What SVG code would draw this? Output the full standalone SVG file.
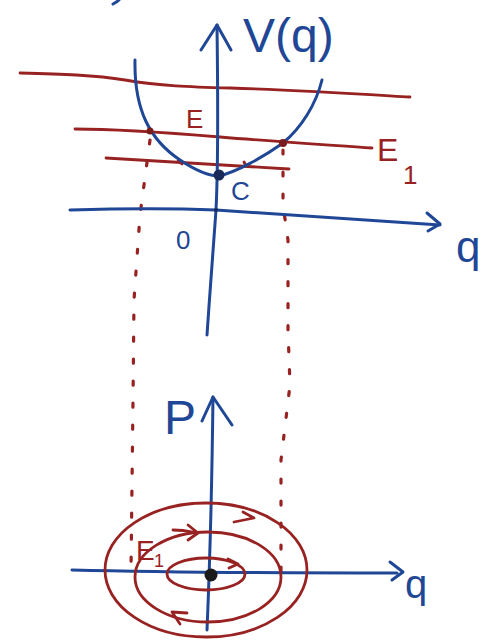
<svg xmlns="http://www.w3.org/2000/svg" width="483" height="644" viewBox="0 0 483 644">
<style>
.b{fill:none;stroke:#1f4796;stroke-width:3;stroke-linecap:round;stroke-linejoin:round}
.r{fill:none;stroke:#982222;stroke-width:2.8;stroke-linecap:round;stroke-linejoin:round}
.d{fill:none;stroke:#982222;stroke-width:3.2;stroke-dasharray:4 18;stroke-linecap:round}
.tb{fill:#1f4796;font-family:"Liberation Sans",Arial,sans-serif}
.tr{fill:#982222;font-family:"Liberation Sans",Arial,sans-serif}
</style>
<rect width="483" height="644" fill="#fff"/>
<g id="mark"><path class="b" d="M113,4 Q117,2 119,0"/></g>
<g id="connectors">
<path class="d" d="M150,140 L140,215 L134,300 L133,400 L131,570"/>
<path class="d" d="M283,150 L283,205 L288,240 L288,330 L290,385 L281,460 L281,575"/>
</g>
<g id="potential">
<path class="r" d="M20,73 C60,74 95,75 125,80 C160,86 190,87 230,88 C300,90 360,94 410,97"/>
<path class="r" d="M75,129 C120,129 160,132 220,137 C280,142 330,145 372,148"/>
<path class="r" d="M106,158 C170,162 230,165 289,169"/>
<path class="r" d="M178,161 l4,3 M244,162 l2,4"/>
<path class="b" d="M135,60 C134,110 150,140 180,160 C195,170 208,176 219,176 C236,172 262,158 283,143 C302,127 316,104 322,80"/>
<circle cx="150" cy="131" r="3.5" fill="#7a1c1c"/>
<circle cx="283" cy="143" r="4" fill="#7a1c1c"/>
<path class="b" d="M70,210 C140,208 190,209 216,210 C300,216 380,221 440,225"/>
<path class="b" d="M427,213 L440,224 L428,231"/>
<path class="b" d="M207,335 C210,290 214,240 216,210 C218,170 218,100 217,25"/>
<path class="b" d="M201,50 L217,25 L231,50"/>
<circle cx="219" cy="175" r="5.5" fill="#1a2a5a"/>
<circle cx="216" cy="210" r="2" fill="#1a2a5a"/>
<text class="tb" x="243" y="52" font-size="48">V(q)</text>
<text class="tr" x="186" y="128" font-size="26">E</text>
<text class="tr" x="377" y="161" font-size="32">E</text>
<text class="tr" x="403" y="184" font-size="26">1</text>
<text class="tb" x="231" y="200" font-size="26">C</text>
<text class="tb" x="176" y="249" font-size="26">0</text>
<text class="tb" x="456" y="262" font-size="44">q</text>
</g>
<g id="phase">
<path class="b" d="M72,570 C150,572 250,573 397,573"/>
<path class="b" d="M390,562 L403,572 L392,580"/>
<path class="b" d="M207,630 C210,560 212,480 213,397"/>
<path class="b" d="M202,421 L213,397 L232,425"/>
<text class="tb" x="164" y="434" font-size="48">P</text>
<text class="tb" x="405" y="598" font-size="40">q</text>
<ellipse class="r" cx="206" cy="574" rx="39" ry="16"/>
<path class="r" d="M228,559 L238,564 L229,568"/>
<ellipse class="r" cx="208" cy="577" rx="73" ry="45"/>
<path class="r" d="M173,530 C185,530 192,532 198,533 M188,525 L198,533 L188,540"/>
<path class="r" d="M187,613 L172,612 L180,624"/>
<ellipse class="r" cx="206" cy="570" rx="101" ry="67"/>
<path class="r" d="M234,522 L254,518 L243,512"/>
<circle cx="211" cy="575" r="6.5" fill="#1a1a1a"/>
<text class="tr" x="136" y="560" font-size="28">E</text>
<text class="tr" x="154" y="567" font-size="18">1</text>
</g>
</svg>
